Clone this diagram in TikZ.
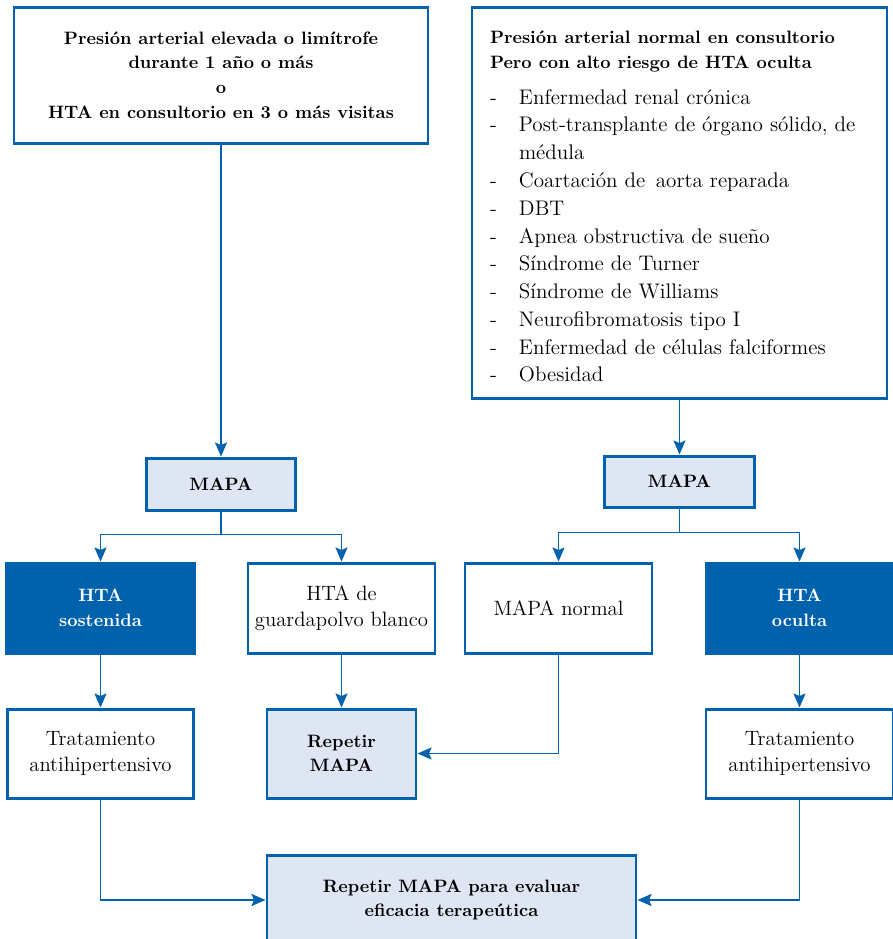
\documentclass[tikz,border=0pt]{standalone}
\usepackage{fontspec}
\usetikzlibrary{shapes,arrows.meta,positioning}
\definecolor{azul}{RGB}{0,98,173}
\definecolor{celeste}{RGB}{222,229,243}
\newcommand{\guion}{\makebox[0.58cm][l]{-}}

\begin{document}
\begin{tikzpicture}[
    caja/.style={draw=azul, line width=1.7pt, fill=white, align=center, inner sep=0pt, font=\fontsize{11.8}{15}\selectfont},
    cajaclara/.style={caja, fill=celeste, font=\fontsize{10.2}{14}\selectfont\bfseries},
    cajaoscura/.style={caja, fill=azul, text=white, font=\fontsize{10.2}{14.5}\selectfont\bfseries},
    flecha/.style={draw=azul, line width=1.1pt, -{Stealth[length=0.28cm,width=0.24cm,inset=0.05cm]}}
  ]
  \useasboundingbox (0,0) rectangle (17.86,-18.78);

  % Top boxes
  \node[caja, minimum width=8.28cm, minimum height=2.72cm, font=\fontsize{10.2}{14}\selectfont\bfseries] (elevada) at (4.42,-1.50)
    {Presión arterial elevada o limítrofe\\durante 1 año o más\\o\\HTA en consultorio en 3 o más visitas};
  \node[caja, minimum height=7.82cm, text width=7.58cm, align=left, inner xsep=0.36cm, font=\fontsize{12}{15.8}\selectfont] (riesgo) at (13.59,-4.05)
    {{\fontsize{10.2}{14}\selectfont\bfseries\rule{0pt}{12pt}Presión arterial normal en consultorio}\\[-1.7pt]
     {\fontsize{10.2}{14}\selectfont\bfseries Pero con alto riesgo de HTA oculta}\\[4.5pt]
     \guion Enfermedad renal crónica\\
     \guion Post-transplante de órgano sólido, de\\
     \hspace*{0.58cm}médula\\
     \guion Coartación de\, aorta reparada\\
     \guion DBT\\
     \guion Apnea obstructiva de sueño\\
     \guion Síndrome de Turner\\
     \guion Síndrome de Williams\\
     \guion Neurofibromatosis tipo I\\
     \guion Enfermedad de células falciformes\\
     \guion Obesidad};

  % MAPA
  \node[cajaclara, minimum width=2.98cm, minimum height=1.04cm] (mapa1) at (4.42,-9.68) {MAPA};
  \node[cajaclara, minimum width=3.0cm, minimum height=1.02cm] (mapa2) at (13.59,-9.63) {MAPA};

  % Results
  \node[cajaoscura, minimum width=3.76cm, minimum height=1.8cm] (sostenida) at (2.01,-12.16) {HTA\\sostenida};
  \node[caja, minimum width=3.74cm, minimum height=1.8cm] (guardapolvo) at (6.83,-12.16) {HTA de\\guardapolvo blanco};
  \node[caja, minimum width=3.74cm, minimum height=1.8cm] (mapanormal) at (11.17,-12.16) {MAPA normal};
  \node[cajaoscura, minimum width=3.74cm, minimum height=1.8cm] (oculta) at (15.99,-12.16) {HTA\\oculta};

  % Actions
  \node[caja, minimum width=3.72cm, minimum height=1.78cm] (trat1) at (2.01,-15.07) {Tratamiento\\antihipertensivo};
  \node[cajaclara, minimum width=2.98cm, minimum height=1.78cm] (repetir) at (6.83,-15.07) {Repetir\\MAPA};
  \node[caja, minimum width=3.74cm, minimum height=1.78cm] (trat2) at (15.99,-15.07) {Tratamiento\\antihipertensivo};
  \node[cajaclara, minimum width=7.38cm, minimum height=1.8cm] (eficacia) at (9.03,-18.0) {Repetir MAPA para evaluar\\eficacia terapeútica};

  % Arrows
  \draw[flecha] (elevada.south) -- (mapa1.north);
  \draw[flecha] (riesgo.south) -- (mapa2.north);
  \draw[flecha] (mapa1.south) -- ++(0,-0.46) -| (sostenida.north);
  \draw[flecha] (mapa1.south) -- ++(0,-0.46) -| (guardapolvo.north);
  \draw[flecha] (mapa2.south) -- ++(0,-0.48) -| (mapanormal.north);
  \draw[flecha] (mapa2.south) -- ++(0,-0.48) -| (oculta.north);
  \draw[flecha] (sostenida) -- (trat1);
  \draw[flecha] (guardapolvo) -- (repetir);
  \draw[flecha] (oculta) -- (trat2);
  \draw[flecha] (mapanormal.south) |- (repetir.east);
  \draw[flecha] (trat1.south) |- (eficacia.west);
  \draw[flecha] (trat2.south) |- (eficacia.east);
\end{tikzpicture}
\end{document}
